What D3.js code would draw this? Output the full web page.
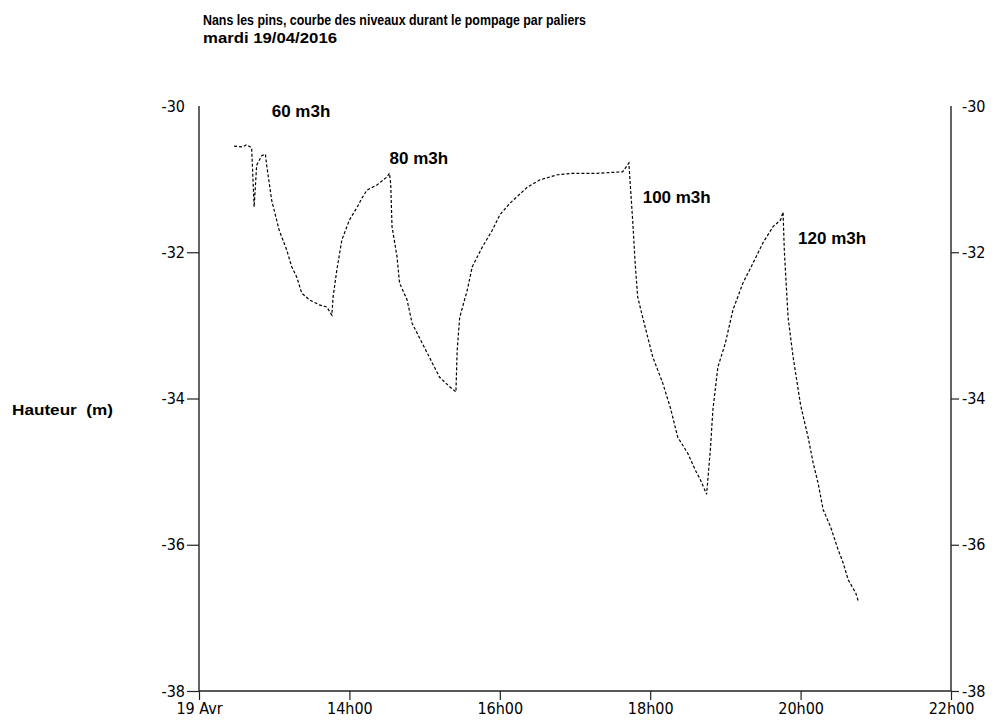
<!DOCTYPE html>
<html><head><meta charset="utf-8">
<script src="https://cdn.jsdelivr.net/npm/d3@7/dist/d3.min.js"></script>
<style>
body{margin:0;background:#fff;}
svg{display:block;}
.tick text{font-family:"DejaVu Sans Condensed","DejaVu Sans",sans-serif;font-stretch:condensed;font-size:16px;fill:#000;}
.bold{font-family:"Liberation Sans",Arial,sans-serif;font-weight:bold;fill:#000;white-space:pre;}
</style></head>
<body>
<script>
// Data: time of day (19/04/2016) and level (m)
const times = ["12:28","12:35","12:38","12:42","12:44","12:46","12:50","12:53","12:54","12:58",
"13:04","13:10","13:14","13:18","13:22","13:28","13:36","13:42","13:46","13:47",
"13:50","13:54","14:00","14:06","14:10","14:14","14:22","14:30","14:32","14:33",
"14:34","14:38","14:40","14:46","14:50","14:58","15:06","15:12","15:20","15:25",
"15:26","15:28","15:34","15:38","15:46","15:54","16:00","16:08","16:22","16:32",
"16:46","16:58","17:18","17:38","17:43","17:44","17:46","17:48","17:50","17:54",
"17:58","18:02","18:10","18:16","18:22","18:30","18:36","18:40","18:45","18:48",
"18:50","18:54","19:00","19:06","19:14","19:22","19:30","19:38","19:44","19:46",
"19:47","19:50","19:54","20:00","20:06","20:10","20:14","20:18","20:24","20:30",
"20:34","20:38","20:44","20:46"];
const levels = [-30.55,-30.56,-30.53,-30.57,-31.38,-30.81,-30.68,-30.66,-30.81,-31.29,
-31.70,-31.97,-32.20,-32.34,-32.56,-32.65,-32.72,-32.75,-32.86,-32.61,
-32.24,-31.83,-31.56,-31.39,-31.26,-31.15,-31.08,-30.97,-30.92,-31.08,
-31.65,-32.06,-32.42,-32.65,-32.97,-33.24,-33.51,-33.71,-33.84,-33.91,
-33.34,-32.89,-32.52,-32.20,-31.93,-31.70,-31.49,-31.33,-31.11,-31.01,
-30.94,-30.92,-30.92,-30.90,-30.78,-31.05,-31.56,-32.15,-32.61,-32.89,
-33.16,-33.43,-33.79,-34.12,-34.53,-34.75,-34.98,-35.11,-35.31,-34.70,
-34.16,-33.57,-33.24,-32.79,-32.42,-32.15,-31.87,-31.65,-31.56,-31.45,
-31.97,-32.89,-33.43,-34.09,-34.53,-34.88,-35.16,-35.52,-35.76,-36.07,
-36.25,-36.48,-36.66,-36.77];
const yTicks = [-30,-32,-34,-36,-38];
const yTickLabels = ["-30","-32","-34","-36","-38"];
const xTickHours = [12,14,16,18,20,22];
const xTickLabels = ["19 Avr","14h00","16h00","18h00","20h00","22h00"];
const annTexts = ["60 m3h","80 m3h","100 m3h","120 m3h"];
const annTimes = ["12:58","14:32","17:54","19:58"];
const annLevels = [-30.15,-30.79,-31.33,-31.89];
const title1 = "Nans les pins, courbe des niveaux durant le pompage par paliers";
const title2 = "mardi 19/04/2016";
const yLabel = "Hauteur  (m)";

const W=994,H=724;
const m={left:199,right:994-951,top:106,bottom:724-691};
const day = h => new Date(2016,3,19,h,0);
const parse = s => { const [h,mi]=s.split(":").map(Number); return new Date(2016,3,19,h,mi); };
const data = times.map((t,i)=>({t:parse(t),v:levels[i]}));

const svg=d3.select("body").append("svg").attr("width",W).attr("height",H);
const x=d3.scaleTime().domain([day(12),day(22)]).range([m.left,W-m.right]);
const y=d3.scaleLinear().domain([-38,-30]).range([H-m.bottom,m.top]);

const yFmt = d => yTickLabels[yTicks.indexOf(d)];
const yl=d3.axisLeft(y).tickValues(yTicks).tickFormat(yFmt).tickSize(12).tickPadding(2);
const gl=svg.append("g").attr("transform",`translate(${m.left},0)`).call(yl);
const yr=d3.axisRight(y).tickValues(yTicks).tickFormat(yFmt).tickSize(8).tickPadding(3);
const gr=svg.append("g").attr("transform",`translate(${W-m.right},0)`).call(yr);
const xa=d3.axisBottom(x).tickValues(xTickHours.map(day)).tickFormat((d,i)=>xTickLabels[i]).tickSize(9).tickPadding(3);
const gx=svg.append("g").attr("transform",`translate(0,${H-m.bottom})`).call(xa);
[gl,gr,gx].forEach(g=>{
  g.select(".domain").attr("stroke","#222").attr("stroke-width",1.4);
  g.selectAll(".tick line").attr("stroke","#222").attr("stroke-width",1.2);
});
gl.selectAll(".tick").filter(d=>d===-30).select("line").remove();
gr.selectAll(".tick").filter(d=>d===-30).select("line").remove();
gl.select(".domain").attr("d",`M0,${y(-30)}V${y(-38)}`);
gr.select(".domain").attr("d",`M0,${y(-30)}V${y(-38)}`);
gx.select(".domain").attr("d",`M${m.left},0H${W-m.right}`);

// Line
svg.append("path").datum(data)
  .attr("fill","none").attr("stroke","#000").attr("stroke-width",1.2)
  .attr("stroke-dasharray","3,2")
  .attr("d",d3.line().x(d=>x(d.t)).y(d=>y(d.v)));

// Annotations
svg.selectAll(".ann").data(annTexts).enter().append("text")
  .attr("class","bold ann").style("font-size","17px")
  .attr("x",(d,i)=>x(parse(annTimes[i]))).attr("y",(d,i)=>y(annLevels[i]))
  .text(d=>d);

// Titles
svg.append("text").attr("class","bold").style("font-size","15px").attr("x",203).attr("y",25)
  .attr("textLength",383).attr("lengthAdjust","spacingAndGlyphs").text(title1);
svg.append("text").attr("class","bold").style("font-size","15px").attr("x",203).attr("y",43)
  .attr("textLength",134).attr("lengthAdjust","spacingAndGlyphs").text(title2);
svg.append("text").attr("class","bold").style("font-size","15px").attr("x",12).attr("y",415)
  .attr("textLength",101).attr("lengthAdjust","spacingAndGlyphs").text(yLabel);
</script>
</body></html>
